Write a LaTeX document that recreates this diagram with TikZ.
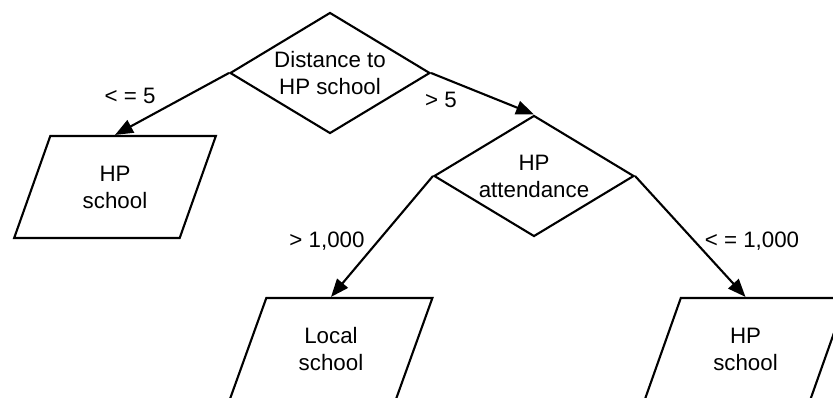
\documentclass[tikz,border=0pt]{standalone}
\usepackage{fontspec}
\setmainfont{Liberation Sans}
\usepackage{tikz}
\usetikzlibrary{positioning,arrows.meta,shapes.geometric}

\begin{document}
\begin{tikzpicture}[
    test/.style={diamond, draw=black, line width=1.2pt, align=center,
                  font=\fontsize{12.7}{15.4}\selectfont, inner sep=0pt,
                  aspect=1.65, minimum width=4cm, minimum height=2.42cm},
    outcome/.style={trapezium, trapezium left angle=68.6,
                  trapezium right angle=111.4, trapezium stretches=true,
                  draw=black, line width=1.2pt, align=center,
                  font=\fontsize{12.7}{15.4}\selectfont,
                  minimum width=4.06cm, minimum height=2.04cm},
    link/.style={line width=1.2pt, -{Triangle[length=0.36cm, width=0.28cm]}},
    cond/.style={font=\fontsize{12.7}{15.4}\selectfont, inner sep=1pt},
  ]
    \useasboundingbox (0,0) rectangle (16.66,-7.94);

    % --- decision nodes -------------------------------------------------------
    \node[test] (dist) at (6.6,-1.46)  {Distance to\\HP school};
    \node[test] (att)  at (10.68,-3.52) {HP\\attendance};

    % --- outcomes -------------------------------------------------------------
    \node[outcome] (hpA) at (2.3,-3.74)   {HP\\school};
    \node[outcome] (loc) at (6.62,-6.98)  {Local\\school};
    \node[outcome] (hpB) at (14.91,-6.98) {HP\\school};

    % --- branches and their conditions ----------------------------------------
    \draw[link] (dist.west) -- (hpA.north);
    \draw[link] (dist.east) -- (att.north);
    \draw[link] (att.west)  -- (loc.north);
    \draw[link] (att.east)  -- (hpB.north);
    \node[cond] (c1) at (2.6,-1.92)   {< = 5};
    \node[cond] (c2) at (8.82,-2.0)   {> 5};
    \node[cond] (c3) at (6.54,-4.82)  {> 1,000};
    \node[cond] (c4) at (15.04,-4.82) {< = 1,000};
  \end{tikzpicture}
\end{document}
